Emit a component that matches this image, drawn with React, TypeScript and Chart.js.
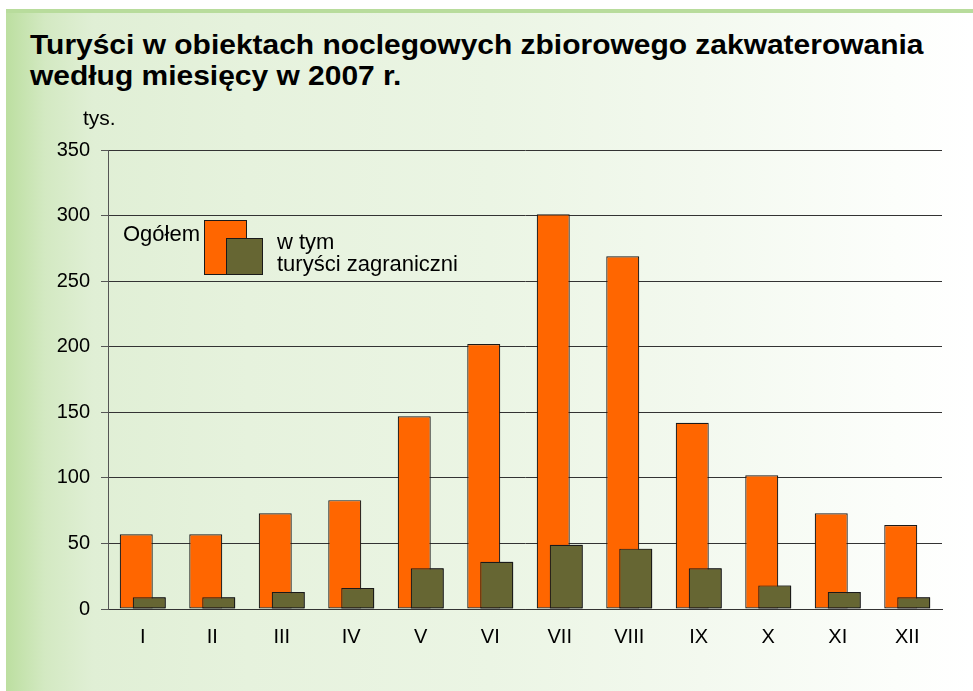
import React, { useEffect, useRef } from "react";
import { Chart, registerables } from "chart.js";

Chart.register(...registerables);

const TITLE_LINES = [
  "Turyści w obiektach noclegowych zbiorowego zakwaterowania",
  "według miesięcy w 2007 r.",
];
const UNIT_LABEL = "tys.";
const MONTHS = ["I", "II", "III", "IV", "V", "VI", "VII", "VIII", "IX", "X", "XI", "XII"];
const TOTAL = [57, 57, 73, 83, 147, 202, 301, 269, 142, 102, 73, 64];
const FOREIGN = [9, 9, 13, 16, 31, 36, 49, 46, 31, 18, 13, 9];
const Y_MIN = 0;
const Y_MAX = 350;
const Y_STEP = 50;
const SERIES_NAMES = ["Ogółem", "w tym turyści zagraniczni"];
const LEGEND_SECOND_LINES = ["w tym", "turyści zagraniczni"];

const ORANGE = "#ff6600";
const OLIVE = "#666633";
const FONT = "'Liberation Sans', Arial, Helvetica, sans-serif";

const overlayPlugin = {
  id: "overlayPlugin",
  afterDatasetsDraw(chart: any) {
    // draw the second series on top of the first (overlapping bars)
    const ctx = chart.ctx;
    const meta = chart.getDatasetMeta(1);
    ctx.save();
    meta.data.forEach((el: any) => el.draw(ctx));
    ctx.restore();
  },
  afterDraw(chart: any) {
    const ctx = chart.ctx;
    ctx.save();
    ctx.fillStyle = "#000";
    ctx.textBaseline = "alphabetic";
    ctx.textAlign = "left";
    ctx.font = `21px ${FONT}`;
    ctx.fillText(UNIT_LABEL, 83, 125);

    // legend
    ctx.font = `22px ${FONT}`;
    ctx.fillText(SERIES_NAMES[0], 123, 241);
    ctx.lineWidth = 1;
    ctx.strokeStyle = "#1a1a1a";
    ctx.fillStyle = ORANGE;
    ctx.fillRect(204.5, 220.5, 42, 54);
    ctx.strokeRect(204.5, 220.5, 42, 54);
    ctx.fillStyle = OLIVE;
    ctx.fillRect(226.5, 238.5, 36, 36);
    ctx.strokeRect(226.5, 238.5, 36, 36);
    ctx.fillStyle = "#000";
    ctx.fillText(LEGEND_SECOND_LINES[0], 277, 249);
    ctx.fillText(LEGEND_SECOND_LINES[1], 277, 271);
    ctx.restore();
  },
};

export default function App() {
  const canvasRef = useRef<HTMLCanvasElement | null>(null);

  useEffect(() => {
    document.body.style.margin = "0";
    const canvas = canvasRef.current;
    if (!canvas) return;
    const chart = new Chart(canvas, {
      type: "bar",
      data: {
        labels: MONTHS,
        datasets: [
          {
            label: SERIES_NAMES[0],
            data: TOTAL,
            backgroundColor: ORANGE,
            borderColor: "#1a1a1a",
            borderWidth: 1.2,
            borderSkipped: false,
            categoryPercentage: 0.374,
            barPercentage: 2.54,
          },
          {
            label: SERIES_NAMES[1],
            data: FOREIGN,
            backgroundColor: OLIVE,
            borderColor: "#1a1a1a",
            borderWidth: 1.2,
            borderSkipped: false,
            categoryPercentage: 0.374,
            barPercentage: 2.54,
          },
        ],
      },
      options: {
        responsive: false,
        animation: false,
        events: [],
        layout: { padding: { left: 30, right: 31, top: 150, bottom: 0 } },
        plugins: {
          legend: { display: false },
          title: { display: false },
          tooltip: { enabled: false },
        },
        scales: {
          x: {
            grid: { display: false, drawTicks: false },
            border: { display: true, color: "#333", width: 1 },
            ticks: {
              color: "#000",
              font: { family: FONT, size: 20 },
              padding: 16,
              maxRotation: 0,
              autoSkip: false,
            },
            afterFit(scale: any) {
              scale.height = 82;
            },
          },
          y: {
            min: Y_MIN,
            max: Y_MAX,
            grid: { color: "#333", lineWidth: 1, drawTicks: true, tickLength: 7, tickColor: "#555" },
            border: { display: true, color: "#555", width: 1 },
            ticks: {
              stepSize: Y_STEP,
              color: "#000",
              font: { family: FONT, size: 20 },
              padding: 11,
            },
            afterFit(scale: any) {
              scale.width = 78;
            },
          },
        },
      },
      plugins: [overlayPlugin],
    });
    return () => chart.destroy();
  }, []);

  return (
    <div
      style={{
        position: "relative",
        width: 973,
        height: 691,
        overflow: "hidden",
        background: "#ffffff",
      }}
    >
      <div
        style={{
          position: "absolute",
          left: 6,
          top: 9,
          right: 0,
          bottom: 0,
          background:
            "linear-gradient(to right, #bcdfa0 0%, #d3e9c2 4%, #e0efd5 9%, #e6f2dd 25%, #ebf5e4 50%, #f3f9ef 72%, #fcfefb 92%, #ffffff 100%)",
        }}
      />
      <div
        style={{
          position: "absolute",
          left: 6,
          top: 9,
          right: 0,
          height: 4,
          background: "#b8dc9c",
        }}
      />
      <div
        style={{
          position: "absolute",
          left: 30,
          top: 29,
          font: `bold 28px/31px ${FONT}`,
          color: "#000",
          whiteSpace: "nowrap",
          transform: "scaleX(1.07)",
          transformOrigin: "0 0",
        }}
      >
        <div>{TITLE_LINES[0]}</div>
        <div>{TITLE_LINES[1]}</div>
      </div>
      <canvas
        ref={canvasRef}
        width={973}
        height={691}
        style={{ position: "absolute", left: 0, top: 0, width: 973, height: 691 }}
      />
    </div>
  );
}
